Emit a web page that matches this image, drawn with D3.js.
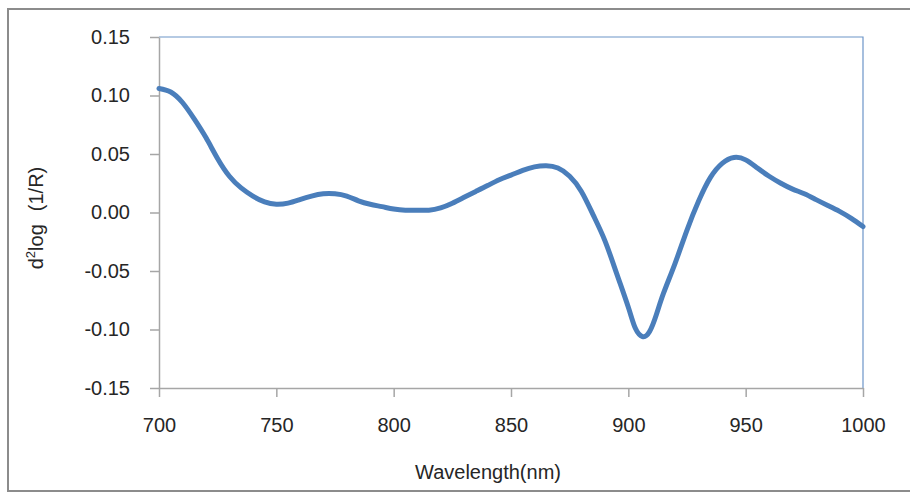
<!DOCTYPE html>
<html>

<head>
    <meta charset="UTF-8">
    <style>
        body { margin: 0; background: #fff; }
        text { font-family: "Liberation Sans", Arial, sans-serif; fill: #262626; }
    </style>
    <script src="https://d3js.org/d3.v7.min.js"></script>
</head>

<body>
    <svg></svg>

    <script>
        let width = 910, height = 493;

        // Wavelength (nm) and second derivative values
        let wavelengths = [700, 705, 710, 715, 720, 725, 730, 735, 740, 745,
            750, 755, 760, 765, 770, 775, 780, 785, 790, 795,
            800, 805, 810, 815, 820, 825, 830, 835, 840, 845,
            850, 855, 860, 865, 870, 875, 880, 885, 890, 895,
            900, 903, 906, 909, 912, 915, 920, 925, 930, 935, 940, 945,
            950, 955, 960, 965, 970, 975, 980, 985, 990, 995, 1000];
        let values = [0.106, 0.103, 0.094, 0.080, 0.064, 0.046, 0.031, 0.021, 0.014, 0.009,
            0.007, 0.008, 0.011, 0.014, 0.016, 0.016, 0.014, 0.010, 0.007, 0.005,
            0.003, 0.002, 0.002, 0.002, 0.004, 0.008, 0.013, 0.018, 0.023, 0.028,
            0.032, 0.036, 0.039, 0.040, 0.038, 0.031, 0.018, -0.002, -0.024, -0.052,
            -0.081, -0.099, -0.106, -0.102, -0.087, -0.069, -0.043, -0.015, 0.010, 0.030, 0.042, 0.047,
            0.045, 0.038, 0.031, 0.025, 0.020, 0.016, 0.011, 0.006, 0.001, -0.005, -0.012];
        let xTicks = [700, 750, 800, 850, 900, 950, 1000];
        let yTicks = [-0.15, -0.10, -0.05, 0.00, 0.05, 0.10, 0.15];

        let data = wavelengths.map((w, i) => ({ w: w, v: values[i] }));

        let svg = d3.select("svg")
            .attr("width", width)
            .attr("height", height);

        // outer chart frame
        svg.append("rect")
            .attr("x", 8).attr("y", 9)
            .attr("width", 920).attr("height", 482)
            .attr("fill", "none")
            .attr("stroke", "#8c8c8c")
            .attr("stroke-width", 2);

        let plotL = 159, plotR = 863, plotT = 37, plotB = 388;

        let x = d3.scaleLinear().domain([700, 1000]).range([plotL, plotR]);
        let y = d3.scaleLinear().domain([-0.15, 0.15]).range([plotB, plotT]);

        // plot area border (top and right in blue)
        svg.append("path")
            .attr("d", "M" + plotL + "," + plotT + "H" + plotR + "V" + plotB)
            .attr("fill", "none")
            .attr("stroke", "#6d95c8")
            .attr("stroke-width", 1.2);

        // axes
        let xAxis = svg.append("g")
            .attr("transform", "translate(0," + plotB + ")")
            .call(d3.axisBottom(x).tickValues(xTicks).tickSize(9).tickSizeOuter(0).tickPadding(21).tickFormat(d3.format("d")));
        let yAxis = svg.append("g")
            .attr("transform", "translate(" + plotL + ",0)")
            .call(d3.axisLeft(y).tickValues(yTicks).tickSize(9).tickSizeOuter(0).tickPadding(20).tickFormat(d3.format(".2f")));

        [xAxis, yAxis].forEach(a => {
            a.select(".domain").attr("stroke", "#a6a6a6").attr("stroke-width", 1.5);
            a.selectAll(".tick line").attr("stroke", "#a6a6a6").attr("stroke-width", 1.5);
            a.selectAll(".tick text")
                .style("font-size", "20px")
                .style("font-family", "'Liberation Sans', Arial, sans-serif")
                .attr("fill", "#262626");
        });
        yAxis.selectAll(".tick text").text(d => d3.format(".2f")(d).replace("−", "-"));

        // curve
        let line = d3.line()
            .x(d => x(d.w))
            .y(d => y(d.v))
            .curve(d3.curveNatural);

        svg.append("path")
            .datum(data)
            .attr("d", line)
            .attr("fill", "none")
            .attr("stroke", "#4a7ebb")
            .attr("stroke-width", 5)
            .attr("stroke-linecap", "round")
            .attr("stroke-linejoin", "round");

        // axis titles
        svg.append("text")
            .attr("x", 488).attr("y", 479)
            .attr("text-anchor", "middle")
            .style("font-size", "20px")
            .text("Wavelength(nm)");

        let yTitle = svg.append("text")
            .attr("transform", "translate(43,218) rotate(-90)")
            .attr("text-anchor", "middle")
            .style("font-size", "20px");
        yTitle.append("tspan").text("d");
        yTitle.append("tspan").attr("dy", -8).style("font-size", "13px").text("2");
        yTitle.append("tspan").attr("dy", 8).text("log");
        yTitle.append("tspan").attr("dx", 13).text("(1/R)");
    </script>

</body>

</html>
